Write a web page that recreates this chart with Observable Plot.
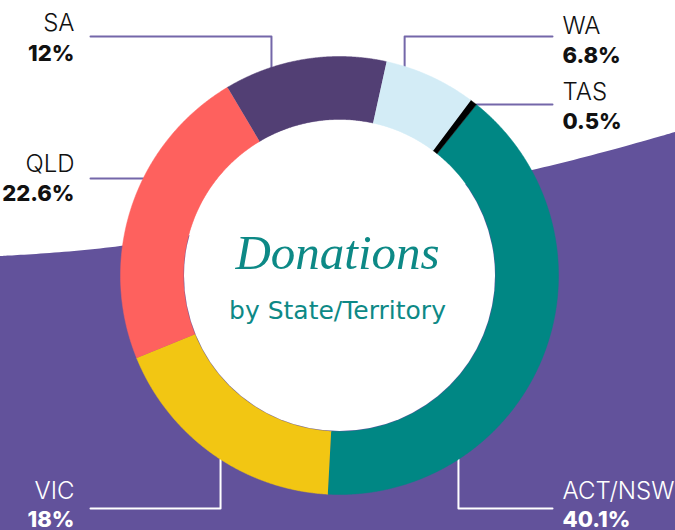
<!DOCTYPE html>
<html>
<head>
<meta charset="utf-8">
<script src="https://cdn.jsdelivr.net/npm/d3@7"></script>
<script src="https://cdn.jsdelivr.net/npm/@observablehq/plot@0.6"></script>
<style>
  html, body { margin: 0; padding: 0; background: #ffffff; }
  #chart { width: 675px; height: 530px; overflow: hidden; }
</style>
</head>
<body>
<div id="chart"></div>
<script>
// ---- data ----
const states = ["ACT/NSW", "VIC", "QLD", "SA", "WA", "TAS"];
const shares = [40.1, 18, 22.6, 12, 6.8, 0.5];
const pctLabels = ["40.1%", "18%", "22.6%", "12%", "6.8%", "0.5%"];
const sliceColors = ["#008784", "#f2c613", "#fe615e", "#523f74", "#d3ecf6", "#000000"];
const titleText = "Donations";
const subtitleText = "by State/Territory";

// ---- decoration: background wave edge (pixel space) ----
const waveX = [0, 120, 532, 675];
const waveY = [256, 246, 170, 132];

// ---- label layout ----
const labelSide = ["right", "left", "left", "left", "right", "right"];
const leaderAngle = [147.1, 212.9, 296.3, 341.9, 17.3, 38.7];
const elbowY = [508, 508, null, 36, 36, null];
const nameBaseline = [498, 498, 171, 30, 33, 99];
const pctBaseline = [526, 526, 200, 60, 62, 128];
const onPurple = [true, true, false, false, false, false];

// ---- geometry ----
const W = 675, H = 530;
const cx = 339, cy = 275, R = 219, r0 = 156;
const startDeg = 38.7;
const rad = d => d * Math.PI / 180;
const pt = (r, a) => [cx + r * Math.sin(a), cy - r * Math.cos(a)];

const pie = d3.pie().sort(null).value(d => d.share)
  .startAngle(rad(startDeg)).endAngle(rad(startDeg) + 2 * Math.PI);
const rows = states.map((s, i) => ({state: s, share: shares[i], pct: pctLabels[i]}));
const arcs = pie(rows);

const slicePts = [];
for (const a of arcs) {
  const n = Math.max(4, Math.ceil((a.endAngle - a.startAngle) / rad(0.25)));
  for (let k = 0; k <= n; k++) {
    const t = a.startAngle + (a.endAngle - a.startAngle) * k / n;
    const [x, y] = pt(R, t);
    slicePts.push({state: a.data.state, x, y});
  }
  for (let k = n; k >= 0; k--) {
    const t = a.startAngle + (a.endAngle - a.startAngle) * k / n;
    const [x, y] = pt(r0, t);
    slicePts.push({state: a.data.state, x, y});
  }
}

const wave = waveX.map((x, i) => ({x, y: waveY[i]}));

// leaders
const leaders = [];
states.forEach((s, i) => {
  const [ax, ay] = pt(R, rad(leaderAngle[i]));
  const ey = elbowY[i] == null ? ay : elbowY[i];
  const endX = labelSide[i] === "left" ? 90 : 552;
  const color = onPurple[i] ? "white" : "purple";
  leaders.push({state: s, color, x: ax, y: ay});
  leaders.push({state: s, color, x: ax, y: ey});
  leaders.push({state: s, color, x: endX, y: ey});
});

const labels = states.map((s, i) => ({
  state: s, pct: pctLabels[i], side: labelSide[i],
  x: labelSide[i] === "left" ? 74 : 562,
  ny: nameBaseline[i], py: pctBaseline[i],
  white: onPurple[i]
}));

const font = "Inter, 'Open Sans', sans-serif";
const textMarks = [];
for (const side of ["left", "right"]) {
  for (const white of [true, false]) {
    const sub = labels.filter(d => d.side === side && d.white === white);
    if (!sub.length) continue;
    const common = {
      x: "x", textAnchor: side === "left" ? "end" : "start",
      lineAnchor: "bottom", fill: white ? "#ffffff" : "#111111",
      fontFamily: font
    };
    textMarks.push(Plot.text(sub, {...common, y: "ny", text: "state", fontSize: 24, fontWeight: 300}));
    textMarks.push(Plot.text(sub, {...common, y: "py", text: "pct", fontSize: 22, fontWeight: 800}));
  }
}

const chart = Plot.plot({
  width: W, height: H,
  marginTop: 0, marginBottom: 0, marginLeft: 0, marginRight: 0,
  x: {domain: [0, W], axis: null},
  y: {domain: [0, H], reverse: true, axis: null},
  color: {domain: states, range: sliceColors},
  style: {background: "#ffffff", fontFamily: font},
  marks: [
    Plot.areaY(wave, {x: "x", y1: "y", y2: H, fill: "#62529b", curve: "catmull-rom"}),
    Plot.line(leaders.filter(d => d.color === "purple"), {x: "x", y: "y", z: "state", stroke: "#7467a9", strokeWidth: 2, curve: "linear"}),
    Plot.line(leaders.filter(d => d.color === "white"), {x: "x", y: "y", z: "state", stroke: "#ffffff", strokeWidth: 2, curve: "linear"}),
    Plot.line(slicePts, {x: "x", y: "y", z: "state", fill: "state", stroke: "state", strokeWidth: 0.5, curve: "linear"}),
    Plot.dot([0], {x: cx, y: cy, r: r0 - 0.5, fill: "#ffffff", stroke: "none"}),
    Plot.text([titleText], {x: cx - 2, y: 268, text: d => d, lineAnchor: "bottom", fill: "#0d8986",
      fontFamily: "'Liberation Serif', 'DejaVu Serif', serif", fontStyle: "italic", fontSize: 49}),
    Plot.text([subtitleText], {x: cx - 2, y: 318, text: d => d, lineAnchor: "bottom", fill: "#0d8986",
      fontFamily: "'DejaVu Sans', sans-serif", fontSize: 25, fontWeight: 400}),
    ...textMarks
  ]
});
document.getElementById("chart").appendChild(chart);
</script>
</body>
</html>
